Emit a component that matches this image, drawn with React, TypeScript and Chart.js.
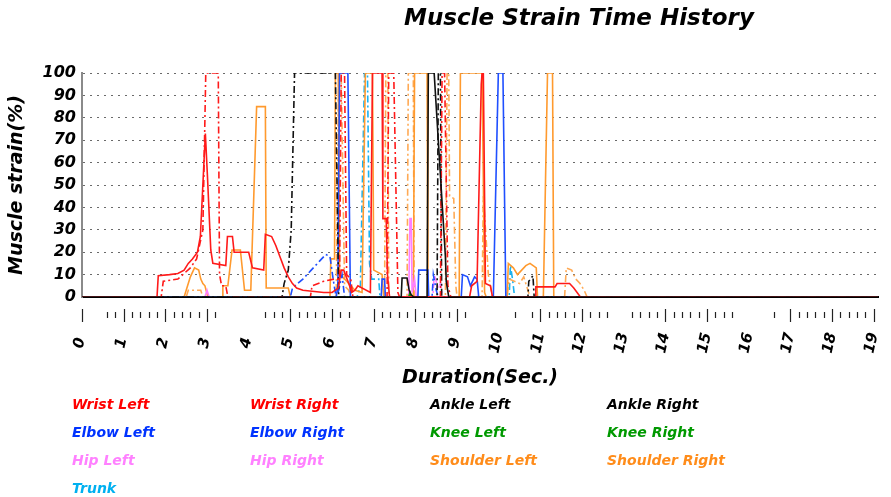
import React, { useEffect, useRef } from 'react';
import { Chart, registerables } from 'chart.js';

Chart.register(...registerables);

const FONT = '"DejaVu Sans", Verdana, sans-serif';

const chartTitle = 'Muscle Strain Time History';
const xTitle = 'Duration(Sec.)';
const yTitle = 'Muscle strain(%)';

const xMax = 19.1;
const yTicksStep = 10;

// Sample tick marks below the axis (seconds)
const sampleTickTimes = [0, 0.6, 0.8, 1.0, 1.2, 1.4, 1.6, 1.8, 2.0, 2.2, 2.4, 2.6, 2.8, 3.0, 3.2,
  4.4, 4.6, 4.8, 5.0, 5.2, 5.4, 5.6, 5.8, 6.0, 6.2, 6.4, 7.0, 7.2, 7.4, 7.6, 7.8, 8.0, 8.2, 8.4,
  8.6, 8.8, 9.0, 9.2, 10.4, 10.8, 11.0, 11.2, 11.4, 11.6, 11.8, 12.0, 12.2, 12.4, 12.6, 13.2,
  13.4, 13.6, 13.8, 14.0, 14.2, 14.4, 14.6, 14.8, 15.0, 15.2, 15.4, 15.6, 16.6, 17.0, 17.2, 17.4,
  17.6, 17.8, 18.0, 18.2, 18.4, 18.6, 18.8, 19.0];

// ---- series data (time in s, strain in %) ----
const wristLeftT = [0, 1.80, 1.83, 2.10, 2.30, 2.45, 2.55, 2.65, 2.77, 2.84, 2.96, 3.01, 3.09, 3.14, 3.45, 3.49, 3.61, 3.65, 4.00, 4.09, 4.36, 4.40, 4.55, 4.65, 4.75, 4.85, 4.95, 5.05, 5.15, 5.30, 5.80, 6.00, 6.15, 6.22, 6.28, 6.42, 6.47, 6.55, 6.62, 6.92, 6.97, 7.20, 7.22, 7.30, 7.33, 7.38, 9.30, 9.35, 9.48, 9.58, 9.60, 9.63, 9.68, 9.80, 9.85, 10.87, 10.89, 11.35, 11.40, 11.70, 11.80, 11.96, 19.10];
const wristLeftV = [0, 0, 9.5, 10, 10.5, 12, 15, 17, 20, 27, 73, 54, 21, 15, 14, 27, 27, 20, 20, 13, 12, 28, 27, 23, 18, 13, 9, 6, 4, 3, 2, 2, 4, 12, 12, 5, 2, 3, 5, 2, 100, 100, 35, 35, 10, 0, 0, 5, 7, 95, 100, 100, 6, 5, 0, 0, 4.5, 4.5, 6, 6, 4, 0, 0];

const wristRightT = [0, 1.90, 1.95, 2.30, 2.60, 2.75, 2.90, 2.97, 3.27, 3.30, 3.35, 3.45, 3.50, 5.48, 5.52, 5.80, 6.05, 6.18, 6.22, 6.30, 6.35, 6.45, 6.50, 7.32, 7.36, 7.48, 7.58, 7.62, 8.60, 8.64, 8.70, 8.78, 8.85, 19.10];
const wristRightV = [0, 0, 7, 8, 13, 17, 30, 100, 100, 10, 5, 5, 0, 0, 5, 7, 8, 8, 100, 100, 10, 8, 0, 0, 100, 100, 2, 0, 0, 100, 100, 5, 0, 0];

const ankleLeftT = [0, 7.66, 7.68, 7.80, 7.85, 7.90, 7.96, 8.28, 8.31, 8.45, 8.72, 8.74, 8.80, 19.10];
const ankleLeftV = [0, 0, 8.5, 8.5, 3, 1, 0, 0, 100, 100, 18, 7, 0, 0];

const ankleRightT = [0, 4.80, 4.85, 4.95, 5.02, 5.10, 6.08, 6.16, 8.52, 8.55, 8.60, 8.63, 10.70, 10.72, 10.82, 10.85, 19.10];
const ankleRightV = [0, 0, 6, 12, 30, 100, 100, 0, 0, 100, 100, 0, 0, 7, 9.5, 0, 0];

const elbowLeftT = [0, 6.10, 6.14, 6.18, 6.38, 6.44, 7.18, 7.20, 7.26, 7.28, 8.06, 8.08, 8.30, 8.32, 9.10, 9.13, 9.25, 9.32, 9.42, 9.48, 9.52, 9.87, 9.99, 10.10, 10.17, 19.10];
const elbowLeftV = [0, 0, 5, 100, 100, 0, 0, 8, 8, 0, 0, 12, 12, 0, 0, 10, 9, 5, 9, 8, 0, 0, 100, 100, 0, 0];

const elbowRightT = [0, 5.00, 5.05, 5.30, 5.50, 5.70, 5.85, 5.95, 6.05, 6.10, 6.16, 6.24, 6.30, 8.40, 8.43, 8.50, 8.55, 19.10];
const elbowRightV = [0, 0, 4, 8, 12, 16, 19, 18, 5, 0, 3, 10, 0, 0, 10, 3, 0, 0];

const kneeLeftT = [0, 7.84, 7.87, 7.90, 19.10];
const kneeLeftV = [0, 0, 2, 0, 0];

const kneeRightT = [0, 19.10];
const kneeRightV = [0, 0];

const hipLeftT = [0, 2.95, 3.00, 3.05, 7.84, 7.87, 7.90, 7.92, 7.98, 8.02, 19.10];
const hipLeftV = [0, 0, 3, 0, 0, 35, 35, 2, 8, 0, 0];

const hipRightT = [0, 8.42, 8.45, 8.55, 8.60, 8.65, 19.10];
const hipRightV = [0, 0, 10, 4, 6, 0, 0];

const shoulderLeftT = [0, 2.45, 2.50, 2.60, 2.70, 2.80, 2.85, 2.90, 2.95, 3.02, 3.36, 3.38, 3.50, 3.60, 3.80, 3.90, 4.05, 4.19, 4.40, 4.42, 4.95, 5.00, 5.95, 5.97, 6.06, 6.08, 6.15, 6.18, 6.30, 6.45, 6.55, 6.72, 6.80, 6.97, 7.00, 7.20, 7.24, 7.95, 7.98, 8.28, 8.30, 9.05, 9.08, 9.60, 9.66, 9.70, 10.20, 10.23, 10.35, 10.45, 10.55, 10.65, 10.75, 10.90, 10.93, 11.07, 11.17, 11.29, 11.32, 19.10];
const shoulderLeftV = [0, 0, 3, 9, 13, 12, 8, 6, 5, 0, 0, 5, 5, 21, 21, 3, 3, 85, 85, 4, 4, 0, 0, 17, 17, 100, 100, 10, 8, 5, 3, 2, 100, 100, 12, 10, 0, 0, 100, 100, 0, 0, 100, 100, 2, 0, 0, 15, 13, 10, 12, 14, 15, 13, 0, 0, 100, 100, 0, 0];

const shoulderRightT = [0, 2.50, 2.55, 2.85, 2.90, 6.10, 6.16, 6.22, 6.30, 6.40, 6.45, 7.26, 7.29, 7.34, 7.36, 7.80, 7.83, 7.95, 7.97, 8.72, 8.76, 8.80, 8.82, 8.92, 8.97, 9.00, 9.60, 9.63, 9.70, 9.75, 9.80, 9.85, 10.20, 10.25, 10.50, 10.60, 10.70, 10.75, 11.58, 11.62, 11.75, 11.85, 11.95, 12.05, 12.12, 19.10];
const shoulderRightV = [0, 0, 3, 3, 0, 0, 100, 100, 5, 3, 0, 0, 100, 100, 0, 0, 100, 100, 0, 0, 100, 100, 45, 44, 5, 0, 0, 45, 25, 10, 5, 0, 0, 8, 6, 9, 3, 0, 0, 13, 12, 8, 6, 3, 0, 0];

const trunkT = [0, 6.60, 6.68, 6.78, 6.85, 6.90, 6.95, 7.12, 7.15, 10.25, 10.28, 10.33, 10.38, 19.10];
const trunkV = [0, 0, 5, 100, 100, 15, 8, 8, 0, 0, 14, 8, 0, 0];

const seriesNames = ['Wrist Left', 'Wrist Right', 'Ankle Left', 'Ankle Right', 'Elbow Left', 'Elbow Right',
  'Knee Left', 'Knee Right', 'Hip Left', 'Hip Right', 'Shoulder Left', 'Shoulder Right', 'Trunk'];
const seriesTimes = [wristLeftT, wristRightT, ankleLeftT, ankleRightT, elbowLeftT, elbowRightT,
  kneeLeftT, kneeRightT, hipLeftT, hipRightT, shoulderLeftT, shoulderRightT, trunkT];
const seriesValues = [wristLeftV, wristRightV, ankleLeftV, ankleRightV, elbowLeftV, elbowRightV,
  kneeLeftV, kneeRightV, hipLeftV, hipRightV, shoulderLeftV, shoulderRightV, trunkV];
const lineColors = ['#ff1a1a', '#ff1a1a', '#111111', '#111111', '#1f4fff', '#1f4fff',
  '#009a00', '#009a00', '#ff80ff', '#ff80ff', '#ff9a2e', '#ffaa55', '#1ab2f0'];
const legendColors = ['#ff0000', '#ff0000', '#000000', '#000000', '#0033ff', '#0033ff',
  '#009900', '#009900', '#ff80ff', '#ff80ff', '#ff8c1a', '#ff8c1a', '#00b0f0'];
const dashedSeries = [false, true, false, true, false, true, false, true, false, true, false, true, true];

const titlePlugin = {
  id: 'offsetTitle',
  afterDraw(chart: any) {
    const { ctx, chartArea } = chart;
    ctx.save();
    ctx.font = `italic bold 23px ${FONT}`;
    ctx.fillStyle = '#000';
    ctx.textAlign = 'center';
    ctx.textBaseline = 'middle';
    ctx.fillText(chartTitle, (chartArea.left + chartArea.right) / 2 + 99, 19);
    ctx.restore();
  },
};

const sampleTickPlugin = {
  id: 'sampleTicks',
  afterDraw(chart: any) {
    const { ctx, chartArea } = chart;
    const xs = chart.scales.x;
    const b = chartArea.bottom;
    ctx.save();
    ctx.strokeStyle = '#222';
    ctx.lineWidth = 1.2;
    for (const t of sampleTickTimes) {
      const px = Math.round(xs.getPixelForValue(t)) + 0.5;
      const major = Math.abs(t - Math.round(t)) < 1e-6;
      ctx.beginPath();
      ctx.moveTo(px, b + (major ? 12 : 15));
      ctx.lineTo(px, b + (major ? 25 : 21));
      ctx.stroke();
    }
    ctx.restore();
  },
};

export default function App() {
  const ref = useRef<HTMLCanvasElement>(null);

  useEffect(() => {
    const datasets = seriesNames.map((name, i) => ({
      label: name,
      data: seriesTimes[i].map((t, j) => ({ x: t, y: seriesValues[i][j] })),
      borderColor: lineColors[i],
      backgroundColor: lineColors[i],
      borderWidth: 1.6,
      borderDash: dashedSeries[i] ? [7, 3, 2, 3] : [],
      pointRadius: 0,
      tension: 0,
      fill: false,
      order: name === 'Ankle Left' ? -1 : 0,
    }));

    const chart = new Chart(ref.current as HTMLCanvasElement, {
      type: 'line',
      data: { datasets },
      options: {
        animation: false,
        responsive: false,
        devicePixelRatio: 1,
        layout: { padding: { top: 73, right: 13, left: 0, bottom: 0 } },
        plugins: {
          legend: { display: false },
          title: { display: false },
          tooltip: { enabled: false },
        },
        scales: {
          x: {
            type: 'linear',
            min: 0,
            max: xMax,
            z: 1,
            border: { display: true, color: '#000', width: 2 },
            grid: { display: false, drawTicks: false },
            ticks: {
              stepSize: 1,
              includeBounds: false,
              autoSkip: false,
              minRotation: 78,
              maxRotation: 78,
              padding: 34,
              color: '#000',
              font: { family: FONT, size: 15, weight: 'bold', style: 'italic' },
              callback: (v: any) => (Number(v) < 10 ? `${v} ` : `${v}`),
            },
            title: {
              display: true,
              text: xTitle,
              color: '#000',
              font: { family: FONT, size: 19, weight: 'bold', style: 'italic' },
              padding: { top: 0, bottom: 3 },
            },
            afterFit: (s: any) => { s.height = 95; s.paddingRight = 0; s.paddingLeft = 0; },
          } as any,
          y: {
            min: 0,
            max: 100,
            border: { display: true, color: '#8a8a8a', width: 2, dash: [2, 5] },
            grid: {
              drawTicks: false,
              color: (c: any) => (c.tick && c.tick.value === 0 ? 'rgba(0,0,0,0)' : '#6a6a6a'),
              lineWidth: 1,
            },
            ticks: {
              stepSize: yTicksStep,
              autoSkip: false,
              padding: 6,
              color: '#000',
              font: { family: FONT, size: 16, weight: 'bold', style: 'italic' },
            },
            title: {
              display: true,
              text: yTitle,
              color: '#000',
              font: { family: FONT, size: 19, weight: 'bold', style: 'italic' },
              padding: { top: 6, bottom: 0 },
            },
            afterFit: (s: any) => { s.width = 82; },
          } as any,
        },
      },
      plugins: [titlePlugin, sampleTickPlugin],
    } as any);
    return () => chart.destroy();
  }, []);

  return (
    <div style={{ position: 'fixed', left: 0, top: 0, width: 891, height: 497, background: '#fff', overflow: 'hidden' }}>
      <canvas ref={ref} width={891} height={392} style={{ position: 'absolute', left: 0, top: 0, width: 891, height: 392 }} />
      <div
        style={{
          position: 'absolute', left: 72, top: 390,
          display: 'grid', gridTemplateColumns: '178px 180px 177px 177px', gridAutoRows: '28px',
          alignItems: 'center', fontFamily: FONT, fontSize: 14, fontWeight: 'bold', fontStyle: 'italic',
          whiteSpace: 'nowrap',
        }}
      >
        {seriesNames.map((n, i) => (
          <div key={n} style={{ color: legendColors[i] }}>{n}</div>
        ))}
      </div>
    </div>
  );
}
